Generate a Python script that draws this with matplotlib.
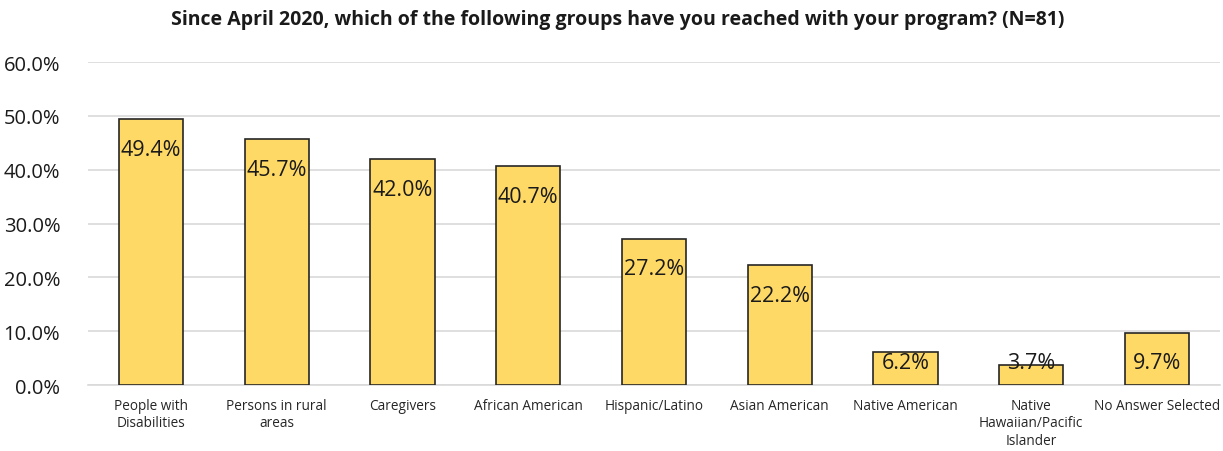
import matplotlib
matplotlib.use("Agg")
import matplotlib.pyplot as plt
from matplotlib.ticker import FuncFormatter

categories = ["People with\nDisabilities", "Persons in rural\nareas", "Caregivers",
              "African American", "Hispanic/Latino", "Asian American",
              "Native American", "Native\nHawaiian/Pacific\nIslander", "No Answer Selected"]
values = [49.4, 45.7, 42.0, 40.7, 27.2, 22.2, 6.2, 3.7, 9.7]
title = "Since April 2020, which of the following groups have you reached with your program? (N=81)"

plt.rcParams['font.family'] = ['Open Sans', 'DejaVu Sans']

fig = plt.figure(figsize=(12.23, 4.52), dpi=100)
ax = fig.add_axes([0.072, 0.146, 0.9255, 0.7146])

x = list(range(len(categories)))
ax.bar(x, [v / 100 for v in values], width=0.51, color="#FFD966",
       edgecolor="#262626", linewidth=1.2, zorder=3)

for xi, v in zip(x, values):
    y = max(v / 100 - 0.056, 0.041)
    ax.text(xi, y, f"{v:.1f}%", ha="center", va="center", fontsize=15.5,
            color="#1a1a1a", zorder=4)

ax.set_xlim(-0.5, len(categories) - 0.5)
ax.set_ylim(0, 0.6)
ax.set_yticks([i / 10 for i in range(7)])
ax.yaxis.set_major_formatter(FuncFormatter(lambda v, p: f"{v*100:.1f}%"))
ax.yaxis.grid(True, color="#d9d9d9", linewidth=1.2, zorder=0)
ax.set_axisbelow(True)
for s in ["top", "right", "left"]:
    ax.spines[s].set_visible(False)
ax.spines["bottom"].set_color("#d9d9d9")
ax.spines["bottom"].set_linewidth(1.2)
ax.tick_params(axis="both", length=0)
ax.tick_params(axis="y", labelsize=14.5, pad=20, labelcolor="#1a1a1a")
ax.set_xticks(x)
ax.set_xticklabels(categories, fontsize=9.8, color="#262626", linespacing=1.25)
ax.tick_params(axis="x", pad=9)

fig.text(0.505, 0.955, title, ha="center", va="center",
         fontsize=14, fontweight="bold", color="#1a1a1a")

fig.savefig("out.png", dpi=100)
